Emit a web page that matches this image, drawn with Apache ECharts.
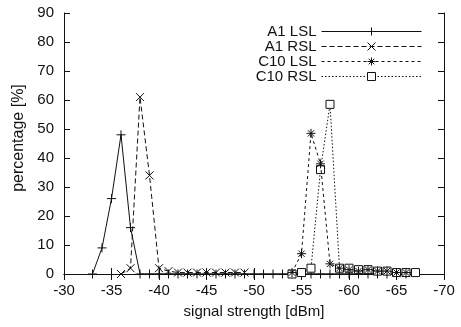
<!DOCTYPE html>
<html>
<head>
<meta charset="utf-8">
<script src="https://cdn.jsdelivr.net/npm/echarts@6/dist/echarts.min.js"></script>
<style>
  html, body { margin: 0; padding: 0; background: #fff; }
  #chart { width: 461px; height: 327px; }
</style>
</head>
<body>
<div id="chart"></div>
<script>
// signal strength [dBm] and percentage [%] per series
const a1LslDbm = [-33, -34, -35, -36, -37, -38, -39, -40, -41, -42, -43, -44, -45, -46, -47, -48, -49, -50, -51, -52, -53, -54, -55, -56, -57, -58, -59, -60, -61, -62, -63, -64, -65, -66];
const a1LslPct = [0, 9, 26, 48, 16, 0, 0, 0, 0, 0, 0, 0, 0, 0, 0, 0, 0, 0, 0, 0, 0, 0, 0, 0, 0, 0, 0, 0, 0, 0, 0, 0, 0, 0];

const a1RslDbm = [-36, -37, -38, -39, -40, -41, -42, -43, -44, -45, -46, -47, -48, -49];
const a1RslPct = [0, 2, 61, 34, 2, 1, 0.5, 0.5, 0.5, 0.5, 0.5, 0.5, 0.5, 0.5];

const c10LslDbm = [-54, -55, -56, -57, -58, -59, -60, -61, -62, -63, -64, -65, -66];
const c10LslPct = [0.5, 7, 48.5, 38, 3.5, 2, 1.5, 1, 1.5, 1, 1, 0.5, 0.5];

const c10RslDbm = [-54, -55, -56, -57, -58, -59, -60, -61, -62, -63, -64, -65, -66, -67];
const c10RslPct = [0, 0.5, 2, 36, 58.5, 2, 2, 1.5, 1.5, 1, 1, 0.5, 0.5, 0.5];

const xTicks = { min: -70, max: -30, interval: 5 };
const yTicks = { min: 0, max: 90, interval: 10 };

const zip = (xs, ys) => xs.map((x, i) => [x, ys[i]]);

const FONT = 'Liberation Sans';
const INK = '#111';
const plusSym = 'path://M0,5L10,5M5,0L5,10';
const crossSym = 'path://M0,0L10,10M10,0L0,10';
const starSym = 'path://M0,5L10,5M5,0L5,10M1.5,1.5L8.5,8.5M8.5,1.5L1.5,8.5';
const boxSym = 'path://M0,0L10,0L10,10L0,10Z';

function lineSeries(name, data, symbol, size, dash, z) {
  return {
    name: name,
    type: 'line',
    z: z,
    data: data,
    symbol: symbol,
    symbolSize: size,
    showAllSymbol: true,
    animation: false,
    lineStyle: { color: INK, width: 1, type: dash },
    itemStyle: { color: symbol === boxSym ? '#fff' : 'none', borderColor: INK, borderWidth: 1 }
  };
}

const axisCommon = {
  type: 'value',
  axisLine: { show: true, lineStyle: { color: INK, width: 1 } },
  axisTick: { show: true, inside: true, length: 6, lineStyle: { color: INK } },
  splitLine: { show: false }
};

const chart = echarts.init(document.getElementById('chart'));
chart.setOption({
  backgroundColor: '#fff',
  textStyle: { fontFamily: FONT },
  grid: { left: 64, right: 17, top: 13, bottom: 53 },
  legend: {
    orient: 'vertical',
    right: 34,
    top: 19,
    align: 'right',
    itemWidth: 100,
    itemHeight: 10,
    itemGap: 0,
    lineStyle: { width: 1 },
    itemStyle: { borderWidth: 1 },
    textStyle: { fontFamily: FONT, fontSize: 15, color: INK },
    data: ['A1 LSL', 'A1 RSL', 'C10 LSL', 'C10 RSL']
  },
  xAxis: [
    Object.assign({}, axisCommon, {
      min: xTicks.min, max: xTicks.max, interval: xTicks.interval,
      inverse: true,
      position: 'bottom',
      name: 'signal strength [dBm]',
      nameLocation: 'middle',
      nameGap: 30,
      nameTextStyle: { fontFamily: FONT, fontSize: 15, color: INK },
      axisLabel: { fontFamily: FONT, fontSize: 15, color: INK, margin: 9 }
    }),
    Object.assign({}, axisCommon, {
      min: xTicks.min, max: xTicks.max, interval: xTicks.interval,
      inverse: true,
      position: 'top',
      axisLabel: { show: false }
    })
  ],
  yAxis: [
    Object.assign({}, axisCommon, {
      min: yTicks.min, max: yTicks.max, interval: yTicks.interval,
      position: 'left',
      name: 'percentage [%]',
      nameLocation: 'middle',
      nameGap: 27,
      nameTextStyle: { fontFamily: FONT, fontSize: 16, color: INK, padding: [0, 0, 0, 11] },
      axisLabel: { fontFamily: FONT, fontSize: 15, color: INK, margin: 10 }
    }),
    Object.assign({}, axisCommon, {
      min: yTicks.min, max: yTicks.max, interval: yTicks.interval,
      position: 'right',
      axisLabel: { show: false }
    })
  ],
  series: [
    lineSeries('A1 LSL', zip(a1LslDbm, a1LslPct), plusSym, 9, 'solid', 2),
    lineSeries('A1 RSL', zip(a1RslDbm, a1RslPct), crossSym, 8, [5, 3], 2),
    lineSeries('C10 LSL', zip(c10LslDbm, c10LslPct), starSym, 9, [3, 3], 3),
    lineSeries('C10 RSL', zip(c10RslDbm, c10RslPct), boxSym, 8, [1.5, 2], 2)
  ]
});
</script>
</body>
</html>
